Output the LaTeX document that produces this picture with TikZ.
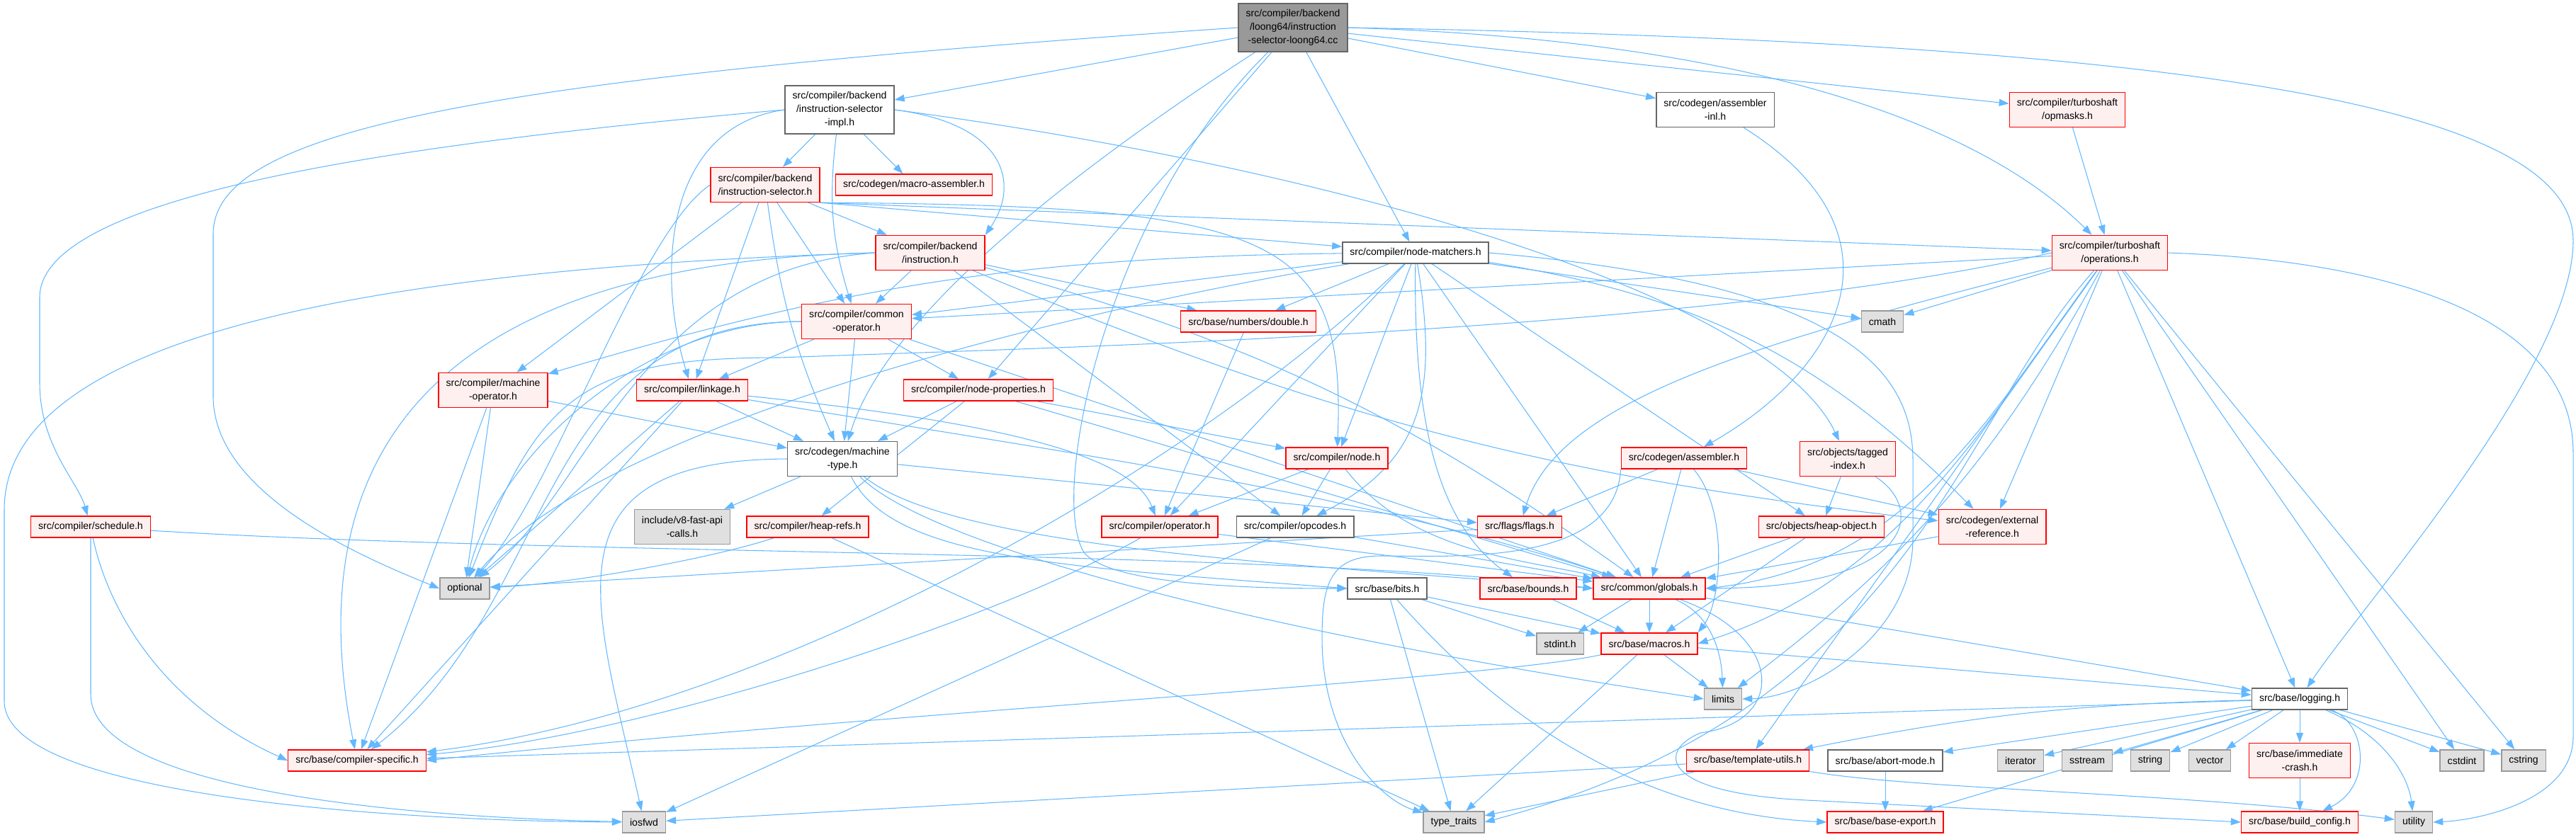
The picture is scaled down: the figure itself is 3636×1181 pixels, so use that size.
\documentclass[tikz,border=0pt]{standalone}
\usepackage{fontspec}
\setmainfont{Liberation Sans}
\usetikzlibrary{arrows.meta,backgrounds}

\definecolor{edgeblue}{HTML}{63B8FF}
\definecolor{redfill}{HTML}{FFF0F0}
\definecolor{sysfill}{HTML}{E0E0E0}
\definecolor{sysdraw}{HTML}{999999}
\definecolor{hdrdraw}{HTML}{666666}
\definecolor{mainfill}{HTML}{999999}
\newcommand{\hdrfont}{\fontsize{8}{10.8}\selectfont}

\begin{document}
\begin{tikzpicture}[x=0.02cm,y=-0.02cm,
  hdr/.style={draw=hdrdraw,fill=white,line width=0.8pt,inner xsep=6pt,inner ysep=1pt,
    minimum height=0.6cm,align=center,font=\hdrfont},
  redhdr/.style={hdr,draw=red,fill=redfill},
  syshdr/.style={hdr,draw=sysdraw,fill=sysfill},
  mainhdr/.style={hdr,fill=mainfill},
  two/.style={minimum height=0.98cm},
  three/.style={minimum height=1.36cm},
  dep/.style={draw=edgeblue,line width=0.6pt,-{Triangle[length=0.28cm,width=0.2cm]}}]

\useasboundingbox (0,0) rectangle (3636,1181);

% Top rows
\node[mainhdr,three] (loongcc) at (1825,39) {src/compiler/backend\\/loong64/instruction\\-selector-loong64.cc};
\node[hdr,three] (iselimpl) at (1185,155) {src/compiler/backend\\/instruction-selector\\-impl.h};
\node[hdr,two] (asminl) at (2421,155) {src/codegen/assembler\\-inl.h};
\node[redhdr,two] (opmasks) at (2918,155) {src/compiler/turboshaft\\/opmasks.h};
\node[redhdr,two] (isel) at (1080,261) {src/compiler/backend\\/instruction-selector.h};
\node[redhdr] (macroasm) at (1290,261) {src/codegen/macro-assembler.h};
\node[redhdr,two] (instr) at (1313,357) {src/compiler/backend\\/instruction.h};
\node[hdr] (matchers) at (1998,357) {src/compiler/node-matchers.h};
\node[redhdr,two] (operations) at (2978,357) {src/compiler/turboshaft\\/operations.h};

% Middle rows
\node[redhdr,two] (commonop) at (1209,454) {src/compiler/common\\-operator.h};
\node[redhdr] (doubleh) at (1762,454) {src/base/numbers/double.h};
\node[syshdr] (cmath) at (2657,454) {cmath};
\node[redhdr,two] (machineop) at (696,551) {src/compiler/machine\\-operator.h};
\node[redhdr] (linkage) at (977,551) {src/compiler/linkage.h};
\node[redhdr] (nodeprops) at (1381,551) {src/compiler/node-properties.h};
\node[hdr,two] (machtype) at (1189,648) {src/codegen/machine\\-type.h};
\node[redhdr] (nodeh) at (1887,647) {src/compiler/node.h};
\node[redhdr] (assembler) at (2377,647) {src/codegen/assembler.h};
\node[redhdr,two] (tagged) at (2608,648) {src/objects/tagged\\-index.h};
\node[redhdr] (schedule) at (128,744) {src/compiler/schedule.h};
\node[syshdr,two] (fastapi) at (963,744) {include/v8-fast-api\\-calls.h};
\node[redhdr] (heaprefs) at (1140,744) {src/compiler/heap-refs.h};
\node[redhdr] (operator) at (1637,744) {src/compiler/operator.h};
\node[hdr] (opcodes) at (1828,744) {src/compiler/opcodes.h};
\node[redhdr] (flags) at (2145,744) {src/flags/flags.h};
\node[redhdr] (heapobj) at (2571,744) {src/objects/heap-object.h};
\node[redhdr,two] (extref) at (2812,744) {src/codegen/external\\-reference.h};

% Lower rows
\node[syshdr] (optional) at (656,831) {optional};
\node[hdr] (bits) at (1958,831) {src/base/bits.h};
\node[redhdr] (bounds) at (2157,831) {src/base/bounds.h};
\node[redhdr] (globals) at (2328,831) {src/common/globals.h};
\node[syshdr] (stdint) at (2202,909) {stdint.h};
\node[redhdr] (macros) at (2328,909) {src/base/macros.h};
\node[syshdr] (limits) at (2432,987) {limits};
\node[hdr] (logging) at (3246,987) {src/base/logging.h};
\node[redhdr] (compspec) at (504,1074) {src/base/compiler-specific.h};
\node[redhdr] (tmplutils) at (2467,1074) {src/base/template-utils.h};
\node[hdr] (abortmode) at (2661,1074) {src/base/abort-mode.h};
\node[syshdr] (iterator) at (2852,1074) {iterator};
\node[syshdr] (sstream) at (2946,1074) {sstream};
\node[syshdr] (stringh) at (3035,1074) {string};
\node[syshdr] (vectorh) at (3119,1074) {vector};
\node[redhdr,two] (immcrash) at (3246,1074) {src/base/immediate\\-crash.h};
\node[syshdr] (cstdint) at (3475,1074) {cstdint};
\node[syshdr] (cstring) at (3562,1074) {cstring};
\node[syshdr] (iosfwd) at (909,1161) {iosfwd};
\node[syshdr] (typetraits) at (2052,1161) {type\_traits};
\node[redhdr] (baseexport) at (2661,1161) {src/base/base-export.h};
\node[redhdr] (buildconfig) at (3246,1161) {src/base/build\_config.h};
\node[syshdr] (utility) at (3407,1161) {utility};

\begin{scope}[on background layer]
% From the loong64 selector
\draw[dep] (loongcc) -- (iselimpl);
\draw[dep] (loongcc.west) .. controls (700,110) and (301,180) .. (301,330) -- (301,560) .. controls (301,700) and (520,790) .. (optional.west);
\draw[dep] (loongcc) -- (asminl);
\draw[dep] (loongcc) -- (opmasks);
\draw[dep] (loongcc.east) .. controls (2600,60) and (2850,230) .. (operations);
\draw[dep] (loongcc) -- (matchers);
\draw[dep] (loongcc) -- (nodeprops);
\draw[dep] (loongcc) .. controls (1500,250) and (1250,450) .. (machtype);
\draw[dep] (loongcc) .. controls (1560,300) and (1480,700) .. (1530,780) .. controls (1570,830) and (1800,831) .. (bits.west);
\draw[dep] (loongcc.east) .. controls (3100,60) and (3632,150) .. (3632,340) .. controls (3632,520) and (3330,860) .. (logging);

% instruction-selector-impl.h
\draw[dep] (iselimpl) -- (isel);
\draw[dep] (iselimpl) -- (macroasm);
\draw[dep] (iselimpl.east) .. controls (1420,175) and (1440,260) .. (instr.north east);
\draw[dep] (iselimpl) to[bend right=12] (commonop);
\draw[dep] (iselimpl.west) .. controls (930,180) and (930,400) .. (linkage);
\draw[dep] (iselimpl.west) .. controls (600,200) and (56,270) .. (56,420) -- (56,540) .. controls (56,630) and (110,680) .. (schedule);
\draw[dep] (iselimpl.east) .. controls (1900,240) and (2500,420) .. (tagged);
\draw[dep] (asminl) .. controls (2700,330) and (2600,520) .. (assembler);
\draw[dep] (opmasks) -- (operations);

% instruction-selector.h
\draw[dep] (isel) -- (instr);
\draw[dep] (isel) -- (commonop);
\draw[dep] (isel) -- (linkage);
\draw[dep] (isel) -- (machineop);
\draw[dep] (isel) to[bend right=8] (machtype);
\draw[dep] (isel.south east) .. controls (1800,290) and (1900,330) .. (nodeh);
\draw[dep] (isel.south east) -- (matchers);
\draw[dep] (isel.south east) -- (operations);
\draw[dep] (isel.west) .. controls (900,330) and (780,700) .. (optional);

% instruction.h
\draw[dep] (instr.west) .. controls (500,380) and (6,480) .. (6,720) -- (6,990) .. controls (6,1130) and (600,1160) .. (iosfwd);
\draw[dep] (instr.west) .. controls (900,380) and (830,700) .. (optional);
\draw[dep] (instr.west) .. controls (600,370) and (420,650) .. (compspec);
\draw[dep] (instr) -- (doubleh);
\draw[dep] (instr) to[bend right=8] (extref);
\draw[dep] (instr) to[bend left=10] (globals);
\draw[dep] (instr) -- (commonop);
\draw[dep] (instr) -- (opcodes);

% node-matchers.h
\draw[dep] (matchers) -- (cmath);
\draw[dep] (matchers.east) .. controls (2600,400) and (2700,520) .. (2700,650) -- (2700,760) .. controls (2700,900) and (2550,985) .. (limits.east);
\draw[dep] (matchers) .. controls (1500,440) and (850,600) .. (optional);
\draw[dep] (matchers) .. controls (1995,600) and (2030,740) .. (bounds);
\draw[dep] (matchers) .. controls (1700,650) and (1100,1000) .. (compspec);
\draw[dep] (matchers) -- (doubleh);
\draw[dep] (matchers) to[bend left=18] (extref);
\draw[dep] (matchers) -- (globals);
\draw[dep] (matchers) -- (commonop);
\draw[dep] (matchers) to[bend right=8] (machineop);
\draw[dep] (matchers) -- (nodeh);
\draw[dep] (matchers) .. controls (2030,550) and (2010,650) .. (opcodes);
\draw[dep] (matchers) -- (operator);
\draw[dep] (matchers) -- (heapobj);

% turboshaft/operations.h
\draw[dep] (operations) -- (cmath);
\draw[dep] (operations) -- (cstdint);
\draw[dep] (operations) -- (cstring);
\draw[dep] (operations) to[bend left=12] (limits);
\draw[dep] (operations.west) .. controls (2400,470) and (1500,490) .. (1100,505) .. controls (820,505) and (760,560) .. (optional);
\draw[dep] (operations) .. controls (2760,600) and (2700,1000) .. (typetraits.east);
\draw[dep] (operations.east) .. controls (3300,365) and (3632,420) .. (3632,640) -- (3632,1040) .. controls (3632,1130) and (3500,1158) .. (utility.east);
\draw[dep] (operations) -- (logging);
\draw[dep] (operations) .. controls (2800,600) and (2680,820) .. (macros.east);
\draw[dep] (operations) -- (tmplutils);
\draw[dep] (operations) -- (extref);
\draw[dep] (operations) .. controls (2800,600) and (2690,800) .. (globals.east);
\draw[dep] (operations) -- (commonop);
\draw[dep] (operations) .. controls (2500,480) and (2200,560) .. (flags);

% common-operator.h, machine-operator.h, linkage.h
\draw[dep] (commonop.west) .. controls (900,455) and (700,650) .. (optional);
\draw[dep] (commonop.west) .. controls (750,455) and (790,850) .. (compspec);
\draw[dep] (commonop) -- (machtype);
\draw[dep] (commonop) -- (globals);
\draw[dep] (commonop) -- (linkage);
\draw[dep] (commonop) -- (nodeprops);
\draw[dep] (machineop) -- (optional);
\draw[dep] (machineop) -- (compspec);
\draw[dep] (machineop) -- (machtype);
\draw[dep] (linkage) -- (optional);
\draw[dep] (linkage) -- (compspec);
\draw[dep] (linkage) -- (machtype);
\draw[dep] (linkage) .. controls (1500,640) and (1900,690) .. (globals);
\draw[dep] (linkage) .. controls (1450,600) and (1600,650) .. (operator);

% node-properties.h, machine-type.h
\draw[dep] (nodeprops) -- (machtype);
\draw[dep] (nodeprops) -- (heaprefs);
\draw[dep] (nodeprops) -- (nodeh);
\draw[dep] (nodeprops) -- (globals);
\draw[dep] (machtype.west) .. controls (760,650) and (840,850) .. (iosfwd);
\draw[dep] (machtype) -- (fastapi);
\draw[dep] (machtype) .. controls (1300,760) and (1700,880) .. (limits.west);
\draw[dep] (machtype) -- (flags);
\draw[dep] (machtype) .. controls (1350,780) and (1900,800) .. (globals.west);
\draw[dep] (machtype) .. controls (1260,790) and (1500,800) .. (bits.west);

% node.h, operator.h, opcodes.h, double.h
\draw[dep] (nodeh) -- (operator);
\draw[dep] (nodeh) -- (opcodes);
\draw[dep] (nodeh) .. controls (1990,780) and (2150,790) .. (globals);
\draw[dep] (operator) .. controls (1400,880) and (900,1040) .. (compspec);
\draw[dep] (operator) -- (globals);
\draw[dep] (opcodes) -- (iosfwd);
\draw[dep] (opcodes) -- (globals);
\draw[dep] (doubleh) -- (operator);

% schedule.h, heap-refs.h, flags.h
\draw[dep] (schedule.south) -- (128,980) .. controls (128,1120) and (600,1155) .. (iosfwd);
\draw[dep] (schedule) .. controls (150,850) and (220,990) .. (compspec.west);
\draw[dep] (schedule) .. controls (800,785) and (1800,775) .. (globals.west);
\draw[dep] (heaprefs) .. controls (1000,790) and (800,825) .. (optional);
\draw[dep] (heaprefs) -- (typetraits);
\draw[dep] (flags) -- (optional);

% assembler.h, tagged-index.h, heap-object.h, external-reference.h
\draw[dep] (assembler) -- (flags);
\draw[dep] (assembler) .. controls (2440,720) and (2430,850) .. (macros.north east);
\draw[dep] (assembler) -- (globals);
\draw[dep] (assembler.south west) .. controls (2280,800) and (2050,785) .. (1950,785) .. controls (1880,785) and (1866,820) .. (1866,900) .. controls (1866,1050) and (1950,1130) .. (typetraits);
\draw[dep] (assembler) -- (extref);
\draw[dep] (tagged) -- (heapobj);
\draw[dep] (tagged) .. controls (2720,720) and (2700,830) .. (globals);
\draw[dep] (heapobj) -- (globals);
\draw[dep] (heapobj) -- (macros);
\draw[dep] (extref) -- (globals);

% base headers
\draw[dep] (bits) -- (stdint);
\draw[dep] (bits) -- (typetraits);
\draw[dep] (bits) .. controls (2150,1050) and (2350,1150) .. (baseexport.west);
\draw[dep] (bits) -- (macros);
\draw[dep] (bounds) -- (macros);
\draw[dep] (globals) -- (stdint);
\draw[dep] (globals) -- (macros);
\draw[dep] (globals) .. controls (2420,870) and (2430,930) .. (limits);
\draw[dep] (globals) -- (logging);
\draw[dep] (globals) .. controls (2520,900) and (2520,1020) .. (2400,1035) .. controls (2340,1060) and (2340,1120) .. (2550,1130) -- (buildconfig.west);
\draw[dep] (macros) -- (limits);
\draw[dep] (macros) -- (typetraits);
\draw[dep] (macros.south west) .. controls (2100,960) and (1200,1010) .. (compspec.east);
\draw[dep] (macros) -- (logging);

% logging.h
\draw[dep] (logging) -- (iterator);
\draw[dep] (logging) -- (sstream);
\draw[dep] (logging) -- (stringh);
\draw[dep] (logging) -- (vectorh);
\draw[dep] (logging) -- (immcrash);
\draw[dep] (logging) -- (cstdint);
\draw[dep] (logging) -- (cstring);
\draw[dep] (logging) .. controls (3370,1040) and (3400,1100) .. (utility);
\draw[dep] (logging) .. controls (3340,1020) and (3350,1110) .. (buildconfig);
\draw[dep] (logging) -- (compspec);
\draw[dep] (logging) to[bend right=5] (tmplutils);
\draw[dep] (logging) -- (abortmode);
\draw[dep] (logging) -- (baseexport);
\draw[dep] (tmplutils) -- (iosfwd);
\draw[dep] (tmplutils) -- (typetraits);
\draw[dep] (tmplutils) .. controls (2700,1115) and (3100,1120) .. (utility);
\draw[dep] (abortmode) -- (baseexport);
\draw[dep] (immcrash) -- (buildconfig);
\end{scope}

\end{tikzpicture}
\end{document}
